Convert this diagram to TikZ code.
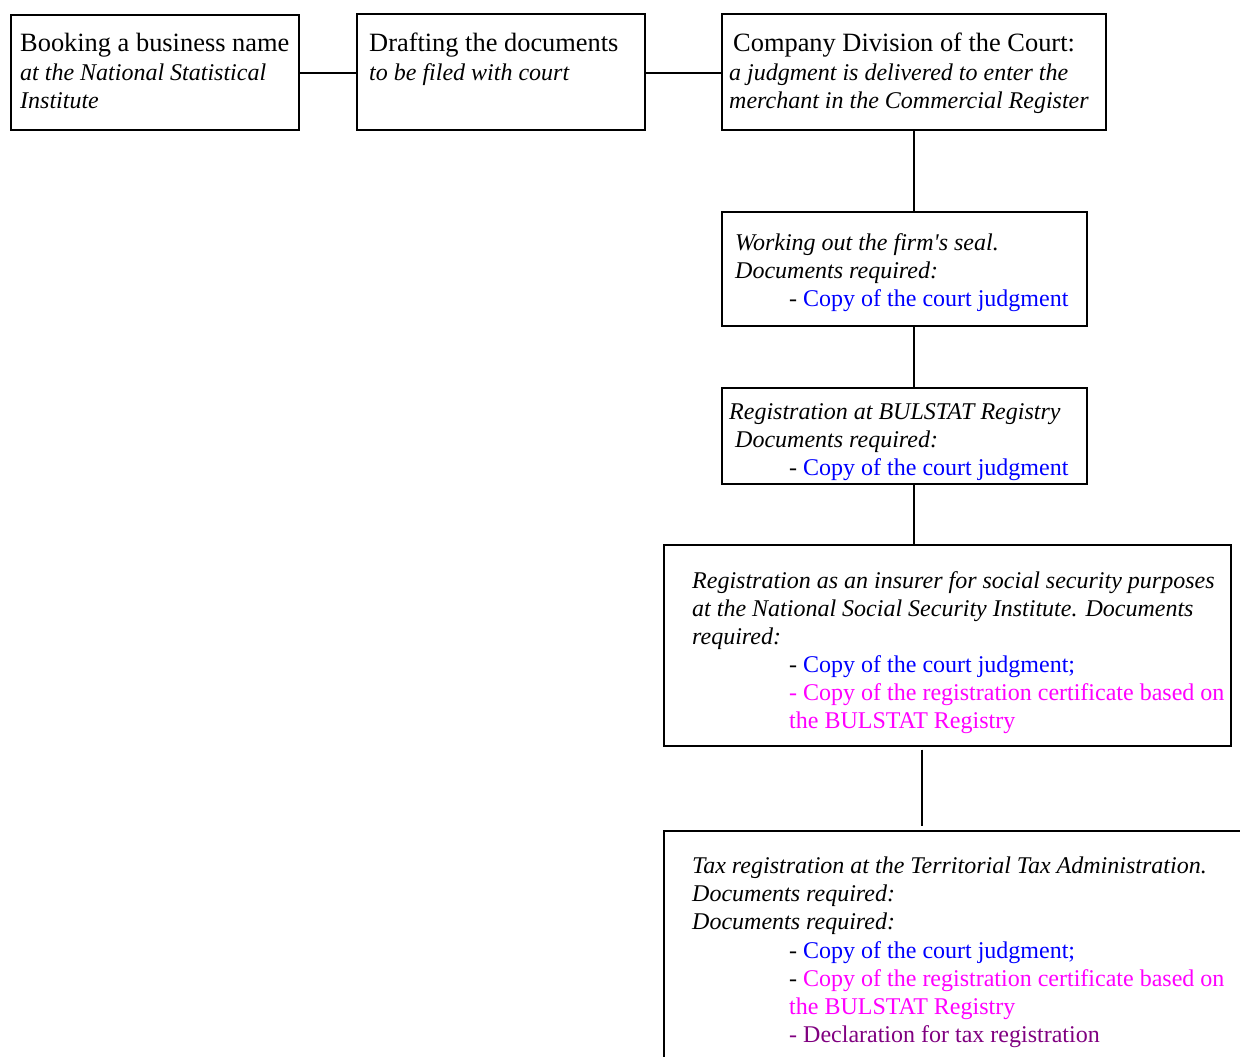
\documentclass[tikz,border=0pt]{standalone}
\usepackage{fontspec}
\setmainfont{Liberation Serif}
\definecolor{cblue}{HTML}{0000FF}
\definecolor{cpink}{HTML}{FF00FF}
\definecolor{cpurp}{HTML}{800080}
\begin{document}
\begin{tikzpicture}[x=1pt,y=-1pt,
  box/.style={draw, line width=1.6pt, anchor=north west, inner sep=0pt},
  ln/.style={anchor=base west, inner sep=0pt, font=\fontsize{24}{28}\selectfont},
  hd/.style={anchor=base west, inner sep=0pt, font=\fontsize{26.4}{30}\selectfont},
  link/.style={line width=1.6pt}]
\useasboundingbox (0,0) rectangle (1240,1057);
\clip (0,0) rectangle (1240,1057);
% boxes
\node[box, minimum width=288pt, minimum height=115pt] (b1) at (10,14) {};
\node[box, minimum width=288pt, minimum height=116pt] (b2) at (356,13) {};
\node[box, minimum width=384pt, minimum height=116pt] (b3) at (721,13) {};
\node[box, minimum width=365pt, minimum height=114pt] (b4) at (721,211) {};
\node[box, minimum width=365pt, minimum height=96pt] (b5) at (721,387) {};
\node[box, minimum width=567pt, minimum height=201pt] (b6) at (663,544) {};
\node[box, minimum width=640pt, minimum height=280pt] (b7) at (663,830) {};
% connectors
\coordinate (k) at (922,0);
\coordinate (h) at (0,73);
\draw[link] (b1.east |- h) -- (b2.west |- h);
\draw[link] (b2.east |- h) -- (b3.west |- h);
\draw[link] (b3.south) -- (b3.south |- b4.north);
\draw[link] (b3.south |- b4.south) -- (b3.south |- b5.north);
\draw[link] (b3.south |- b5.south) -- (b3.south |- b6.north);
\draw[link] ([yshift=-3pt]b6.south -| k) -- ([yshift=4pt]b7.north west -| k);
% box 1
\node[hd] (t1a) at (20,52) {Booking a business name};
\node[ln] (t1b) at (20,81) {\itshape at the National Statistical};
\node[ln] (t1c) at (20,109) {\itshape Institute};
% box 2
\node[hd] (t2a) at (369,52) {Drafting the documents};
\node[ln] (t2b) at (369,81) {\itshape to be filed with court};
% box 3
\node[hd] (t3a) at (733,52) {Company Division of the Court:};
\node[ln] (t3b) at (729,81) {\itshape a judgment is delivered to enter the};
\node[ln] (t3c) at (729,109) {\itshape merchant in the Commercial Register};
% box 4
\node[ln] (t4a) at (735,250) {\itshape Working out the firm\textquotesingle s seal.};
\node[ln] (t4b) at (735,278) {\itshape Documents required:};
\node[ln] (t4c) at (789,306) {- \textcolor{cblue}{Copy of the court judgment}};
% box 5
\node[ln] (t5a) at (729,419) {\itshape Registration at BULSTAT Registry};
\node[ln] (t5b) at (735,447) {\itshape Documents required:};
\node[ln] (t5c) at (789,475) {- \textcolor{cblue}{Copy of the court judgment}};
% box 6
\node[ln] (t6a) at (692,588) {\itshape Registration as an insurer for social security purposes};
\node[ln] (t6b) at (692,616) {\itshape at the National Social Security Institute. Documents};
\node[ln] (t6c) at (692,644) {\itshape required:};
\node[ln] (t6d) at (789,672) {- \textcolor{cblue}{Copy of the court judgment;}};
\node[ln] (t6e) at (789,700) {\textcolor{cpink}{- Copy of the registration certificate based on}};
\node[ln] (t6f) at (789,728) {\textcolor{cpink}{the BULSTAT Registry}};
% box 7
\node[ln] (t7a) at (692,873) {\itshape Tax registration at the Territorial Tax Administration.};
\node[ln] (t7b) at (692,901) {\itshape Documents required:};
\node[ln] (t7c) at (692,929) {\itshape Documents required:};
\node[ln] (t7d) at (789,958) {- \textcolor{cblue}{Copy of the court judgment;}};
\node[ln] (t7e) at (789,986) {- \textcolor{cpink}{Copy of the registration certificate based on}};
\node[ln] (t7f) at (789,1014) {\textcolor{cpink}{the BULSTAT Registry}};
\node[ln] (t7g) at (789,1042) {\textcolor{cpurp}{- Declaration for tax registration}};
\end{tikzpicture}
\end{document}
